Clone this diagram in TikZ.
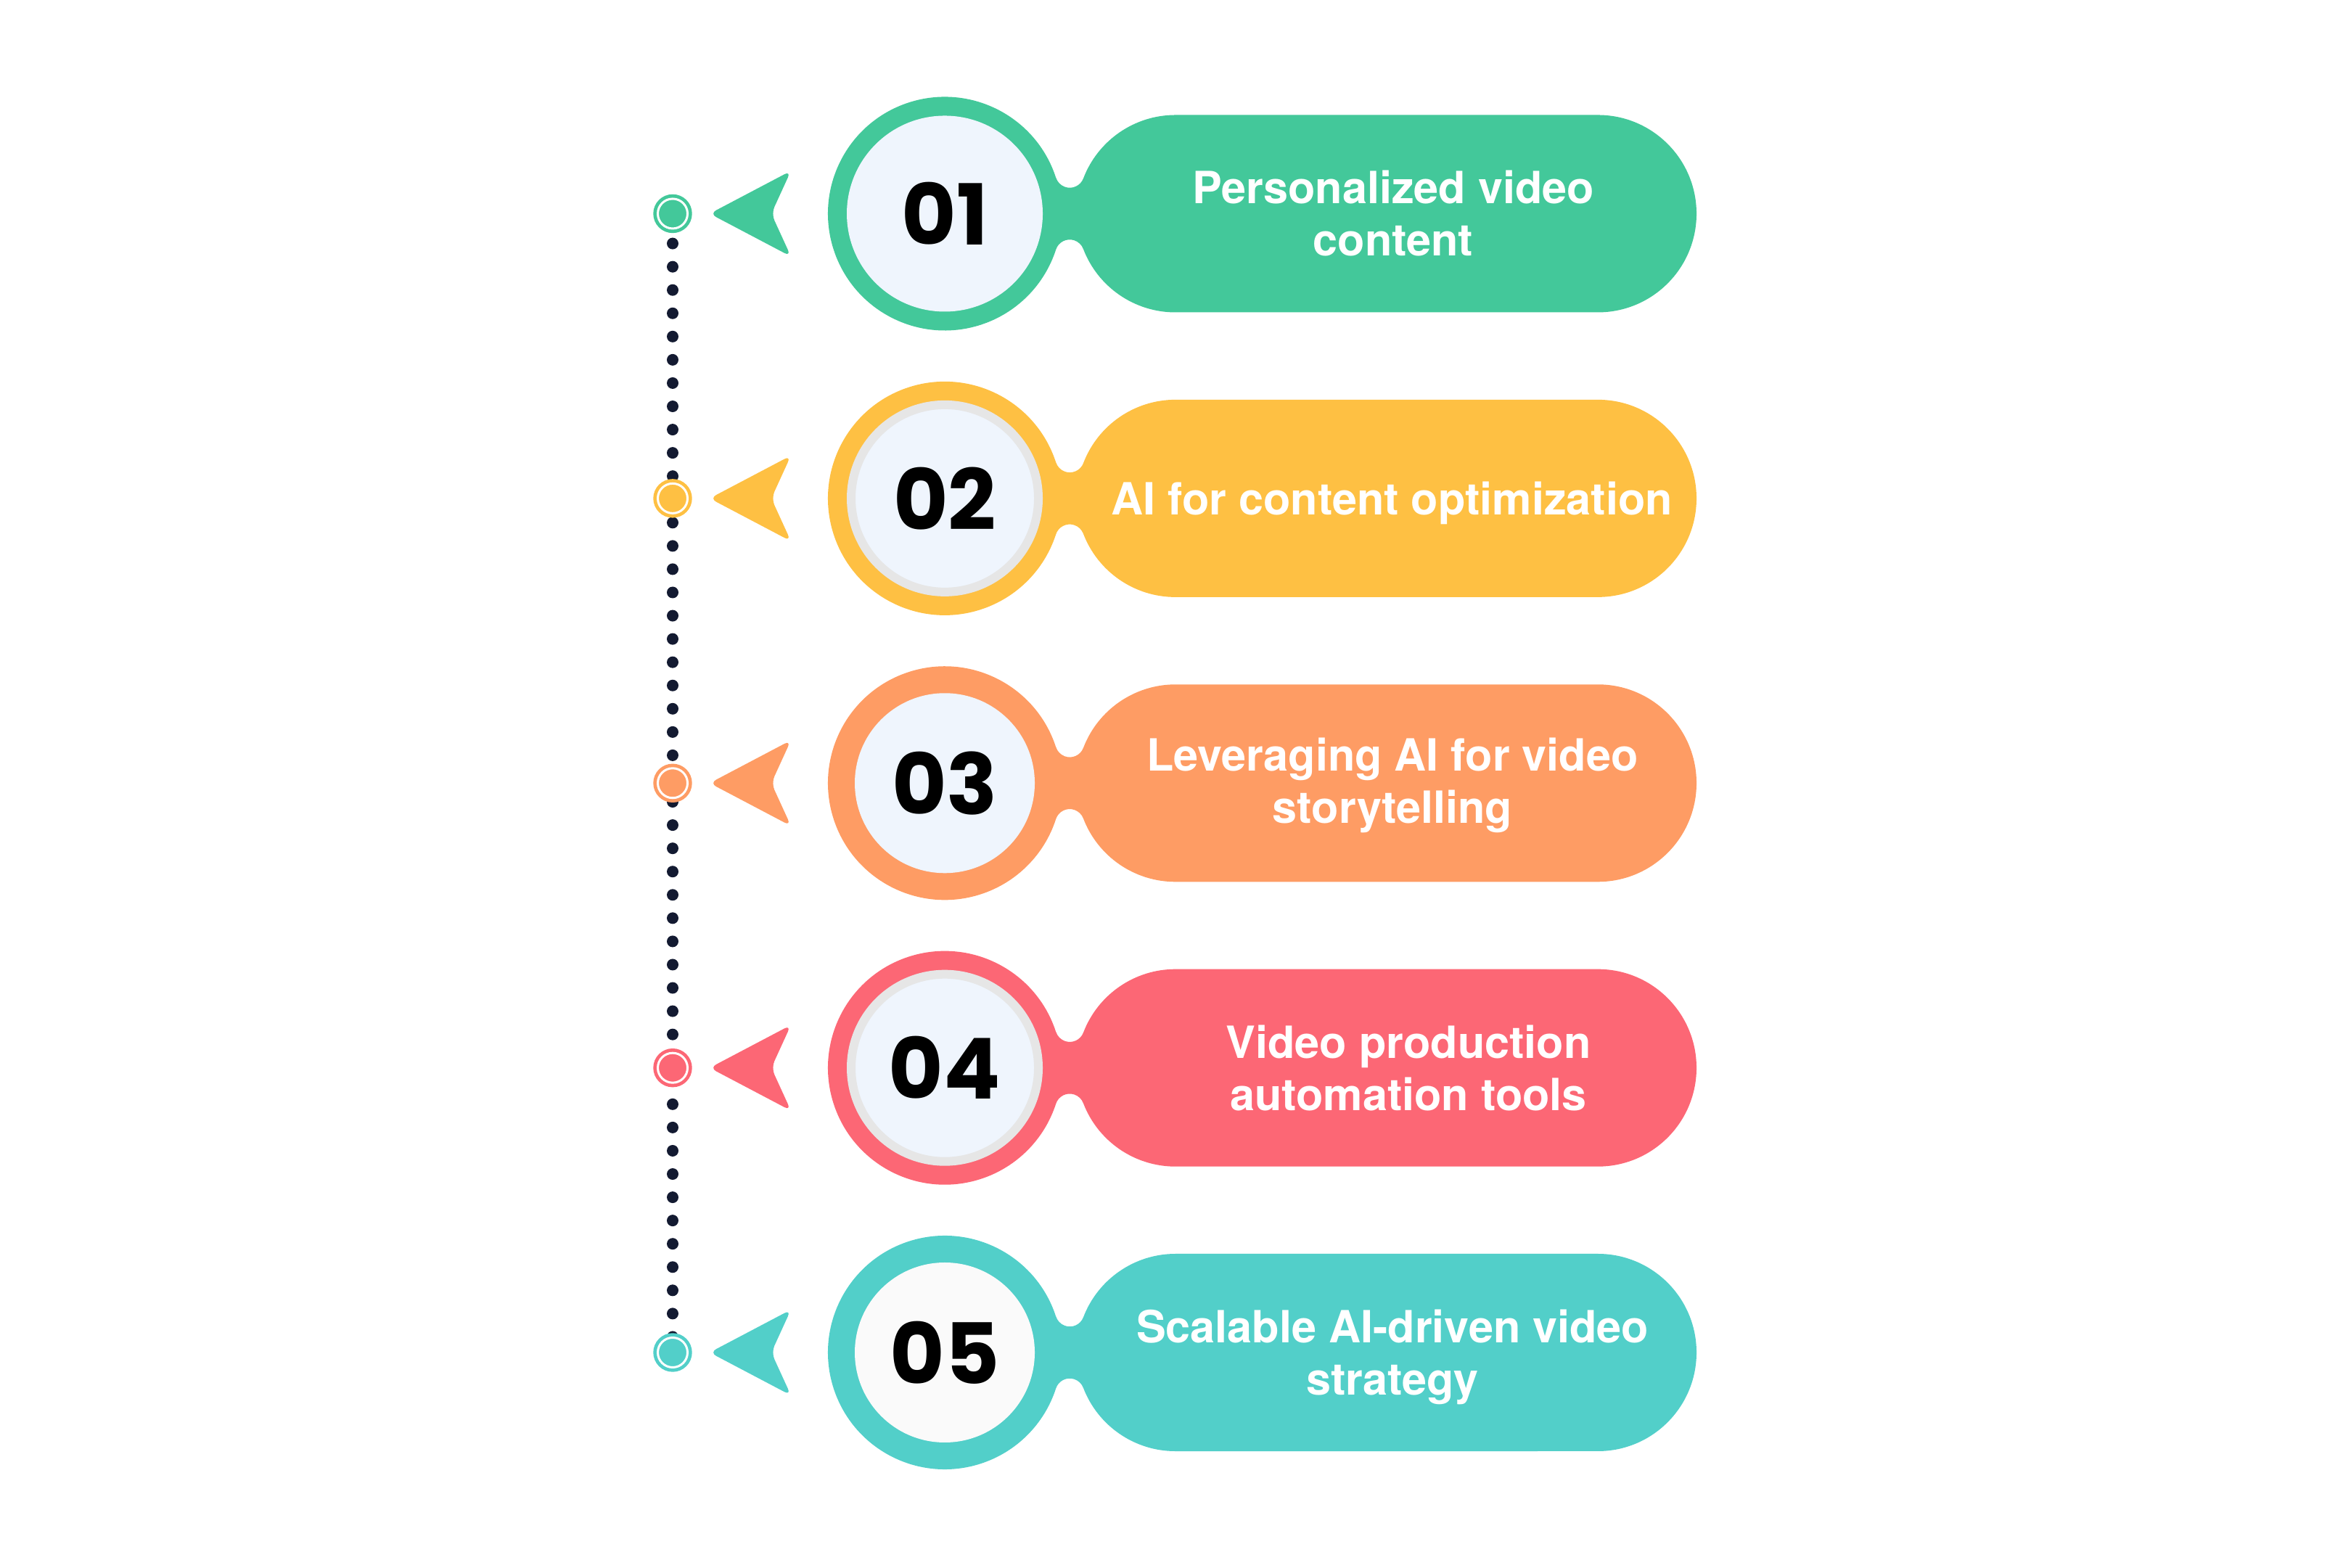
\documentclass[tikz,border=0pt]{standalone}
\usepackage{fontspec}
\setmainfont{TeX Gyre Heros}
\newfontfamily\numfont{Poppins}
\usepackage{tikz}
\usetikzlibrary{positioning}
\usetikzlibrary{backgrounds}

\definecolor{tealgreen}{HTML}{43C89A}
\definecolor{sunyellow}{HTML}{FEC043}
\definecolor{peach}{HTML}{FE9C64}
\definecolor{coral}{HTML}{FC6775}
\definecolor{aqua}{HTML}{52CFC9}
\definecolor{paleblue}{HTML}{EFF5FD}
\definecolor{ringgray}{HTML}{E6E6E6}
\definecolor{navy}{HTML}{131A31}

\tikzset{
  tag/.pic={
    \fill[#1] (17.94:1.61) arc[start angle=17.94,end angle=342.06,radius=1.61]
      arc[start angle=162.06,end angle=20.93,radius=0.2]
      arc[start angle=200.93,end angle=270,radius=1.36] -- (9.00,-1.36)
      arc[start angle=-90,end angle=90,radius=1.36] -- (3.18,1.36)
      arc[start angle=90,end angle=159.07,radius=1.36]
      arc[start angle=339.07,end angle=197.94,radius=0.2] -- cycle;
  },
  numball/.style={circle,fill=paleblue,inner sep=0pt,minimum size=2.70cm,
    font=\numfont\bfseries\fontsize{33}{36}\selectfont},
  ringed/.style={draw=ringgray,line width=0.12cm,minimum size=2.58cm},
  tagtext/.style={text=white,align=center,font=\bfseries\fontsize{17.4}{20.5}\selectfont},
  pointer/.style={rounded corners=0.1cm},
  marker/.style={circle,inner sep=0pt,minimum size=0.41cm,
    double=white,double distance=0.03cm,line width=0.047cm},
  dotline/.style={draw=navy,line width=0.16cm,line cap=round,
    dash pattern=on 0pt off 0.3206cm,dash phase=0.23cm}
}

\begin{document}
\begin{tikzpicture}
  \useasboundingbox (0,0) rectangle (32.4,21.6);

  % 01
  \pic at (13.02,18.655) {tag=tealgreen};
  \node[numball] (n1) at (13.02,18.655) {01};
  \node[tagtext] (t1) at (19.20,18.655) {Personalized video\\content};
  \fill[pointer,tealgreen] (9.78,18.655) -- ++(1.12,0.59) -- ++(-0.27,-0.59) -- ++(0.27,-0.59) -- cycle;
  \node[marker,fill=tealgreen,draw=tealgreen] (m1) at (9.27,18.655) {};

  % 02
  \pic at (13.02,14.731) {tag=sunyellow};
  \node[numball,ringed] (n2) at (13.02,14.731) {02};
  \node[tagtext] (t2) at (19.18,14.67) {AI for content optimization};
  \fill[pointer,sunyellow] (9.78,14.731) -- ++(1.12,0.59) -- ++(-0.27,-0.59) -- ++(0.27,-0.59) -- cycle;
  \node[marker,fill=sunyellow,draw=sunyellow] (m2) at (9.27,14.731) {};

  % 03
  \pic at (13.02,10.807) {tag=peach};
  \node[numball,minimum size=2.48cm] (n3) at (13.02,10.807) {03};
  \node[tagtext] (t3) at (19.19,10.78) {Leveraging AI for video\\storytelling};
  \fill[pointer,peach] (9.78,10.807) -- ++(1.12,0.59) -- ++(-0.27,-0.59) -- ++(0.27,-0.59) -- cycle;
  \node[marker,fill=peach,draw=peach] (m3) at (9.27,10.807) {};

  % 04
  \pic at (13.02,6.883) {tag=coral};
  \node[numball,ringed] (n4) at (13.02,6.883) {04};
  \node[tagtext] (t4) at (19.41,6.883) {Video production\\automation tools};
  \fill[pointer,coral] (9.78,6.883) -- ++(1.12,0.59) -- ++(-0.27,-0.59) -- ++(0.27,-0.59) -- cycle;
  \node[marker,fill=coral,draw=coral] (m4) at (9.27,6.883) {};

  % 05
  \pic at (13.02,2.96) {tag=aqua};
  \node[numball,fill=white!98!black,minimum size=2.48cm] (n5) at (13.02,2.96) {05};
  \node[tagtext] (t5) at (19.19,2.90) {Scalable AI-driven video\\strategy};
  \fill[pointer,aqua] (9.78,2.96) -- ++(1.12,0.59) -- ++(-0.27,-0.59) -- ++(0.27,-0.59) -- cycle;
  \node[marker,fill=aqua,draw=aqua] (m5) at (9.27,2.96) {};

  \begin{scope}[on background layer]
    \draw[dotline] (m1.center) -- (m5.center);
  \end{scope}
\end{tikzpicture}
\end{document}
